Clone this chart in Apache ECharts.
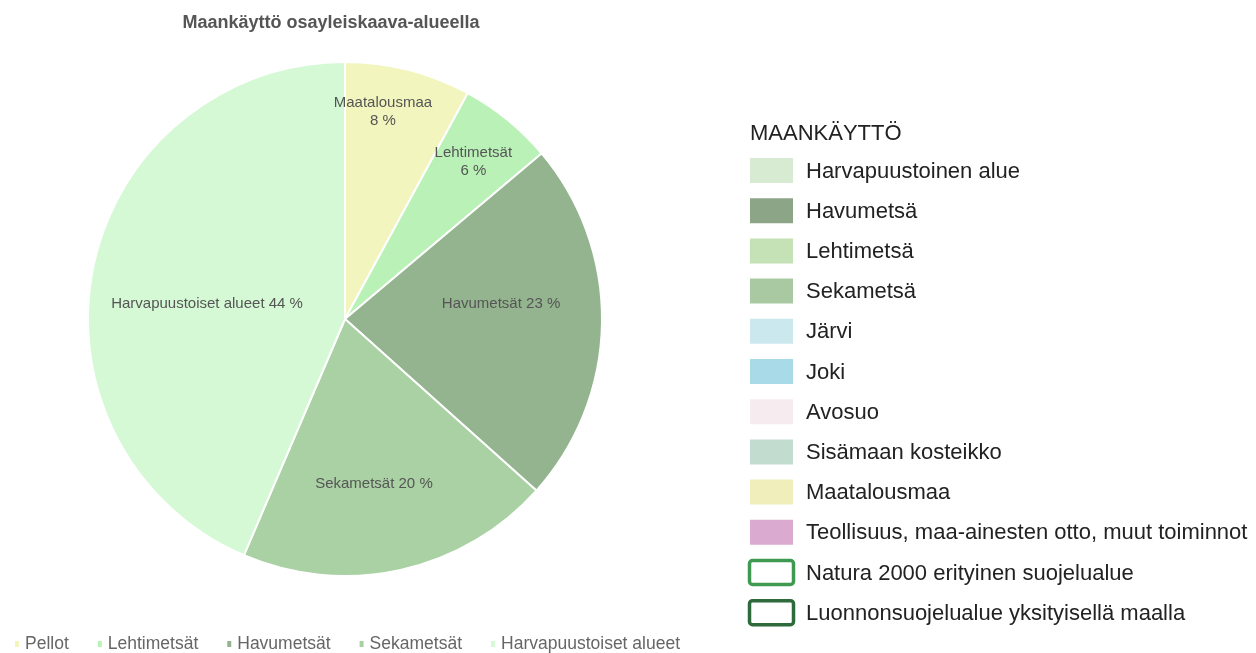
<!DOCTYPE html>
<html lang="fi">
<head>
<meta charset="utf-8">
<title>Maankäyttö osayleiskaava-alueella</title>
<script src="https://cdn.jsdelivr.net/npm/echarts@6/dist/echarts.min.js"></script>
<style>
  html, body { margin: 0; padding: 0; background: #ffffff; }
  #chart { width: 1256px; height: 653px; }
</style>
</head>
<body>
<div id="chart"></div>
<script>
// Pie data: land-use shares (%) in the master plan area
const categories = ['Pellot', 'Lehtimetsät', 'Havumetsät', 'Sekametsät', 'Harvapuustoiset alueet'];
const shares = [8, 6, 23, 20, 44];
const sliceLabels = ['Maatalousmaa\n8 %', 'Lehtimetsät\n6 %', 'Havumetsät 23 %', 'Sekametsät 20 %', 'Harvapuustoiset alueet 44 %'];
const sliceColors = ['#f3f5be', '#b9f1b7', '#94b48f', '#a9d1a3', '#d5f9d5'];

// Map key (land-use classes)
const keyTitle = 'MAANKÄYTTÖ';
const keyNames = [
  'Harvapuustoinen alue', 'Havumetsä', 'Lehtimetsä', 'Sekametsä', 'Järvi', 'Joki',
  'Avosuo', 'Sisämaan kosteikko', 'Maatalousmaa',
  'Teollisuus, maa-ainesten otto, muut toiminnot',
  'Natura 2000 erityinen suojelualue', 'Luonnonsuojelualue yksityisellä maalla'
];
const keyFills = ['#d7ebd3', '#8ca587', '#c5e2b6', '#a8c9a1', '#cce8ef', '#a8dae7',
  '#f6ebee', '#c2dcd0', '#f0efbc', '#dbaad0', '#ffffff', '#ffffff'];
const keyStrokes = [null, null, null, null, null, null, null, null, null, null, '#3e9a50', '#2e6a3b'];

const FONT = '"Liberation Sans", Arial, Helvetica, sans-serif';
const PIE_CENTER = [345, 319];
const PIE_RADIUS = 257;
// label placement per slice: distance as a fraction of the radius, and a small turn (degrees) off the slice's middle
const labelRadiusFrac = [0.82, 0.79, 0.61, 0.65, 0.54];
const labelTurnDeg = [-3.9, 0, -6.4, 2.5, -5.4];

const total = shares.reduce((a, b) => a + b, 0);
function midAngle(i) {
  let before = 0;
  for (let k = 0; k < i; k++) before += shares[k];
  return ((before + shares[i] / 2) / total) * Math.PI * 2; // clockwise from north
}

// Key graphic elements
const KEY_X = 750, KEY_TOP = 158, KEY_STEP = 40.2, SW_W = 43, SW_H = 25;
const KEY_FONT = '22px ' + FONT;
const keyElements = [{
  type: 'text', x: KEY_X, y: 134,
  style: { text: keyTitle, font: KEY_FONT, fill: '#222222', verticalAlign: 'middle' }
}];
keyNames.forEach((name, i) => {
  const y = KEY_TOP + i * KEY_STEP;
  const outlined = !!keyStrokes[i];
  keyElements.push({
    type: 'rect',
    shape: outlined
      ? { x: KEY_X - 0.5, y: y + 0.5, width: SW_W + 1, height: SW_H - 1, r: 3 }
      : { x: KEY_X, y: y, width: SW_W, height: SW_H },
    style: outlined
      ? { fill: keyFills[i], stroke: keyStrokes[i], lineWidth: 3.5 }
      : { fill: keyFills[i] }
  });
  keyElements.push({
    type: 'text', x: 806, y: y + SW_H / 2 + 1,
    style: { text: name, font: KEY_FONT, fill: '#222222', verticalAlign: 'middle' }
  });
});

const chart = echarts.init(document.getElementById('chart'), null, { renderer: 'canvas' });
chart.setOption({
  backgroundColor: '#ffffff',
  animation: false,
  title: {
    text: 'Maankäyttö osayleiskaava-alueella',
    left: 326, top: 9, textAlign: 'center',
    textStyle: { fontFamily: FONT, fontSize: 18, fontWeight: 'bold', color: '#555555' }
  },
  legend: {
    top: 630, left: 8,
    icon: 'rect', itemWidth: 6, itemHeight: 8, itemGap: 27,
    textStyle: { fontFamily: FONT, fontSize: 17.5, color: '#666666' },
    data: categories
  },
  color: sliceColors,
  series: [{
    type: 'pie',
    center: PIE_CENTER,
    radius: [0, PIE_RADIUS],
    startAngle: 90,
    clockwise: true,
    avoidLabelOverlap: false,
    itemStyle: { borderColor: '#ffffff', borderWidth: 2 },
    emphasis: { disabled: true },
    label: {
      show: true,
      position: 'inside',
      fontFamily: FONT, fontSize: 15, color: '#555555', lineHeight: 18,
      align: 'center',
      formatter: p => sliceLabels[p.dataIndex]
    },
    labelLine: { show: false },
    labelLayout: p => {
      const i = p.dataIndex;
      const a = midAngle(i) + labelTurnDeg[i] * Math.PI / 180;
      const r = PIE_RADIUS * labelRadiusFrac[i];
      return {
        x: PIE_CENTER[0] + r * Math.sin(a),
        y: PIE_CENTER[1] - r * Math.cos(a),
        align: 'center', verticalAlign: 'middle'
      };
    },
    data: categories.map((name, i) => ({ name: name, value: shares[i] }))
  }],
  graphic: keyElements
});
</script>
</body>
</html>
